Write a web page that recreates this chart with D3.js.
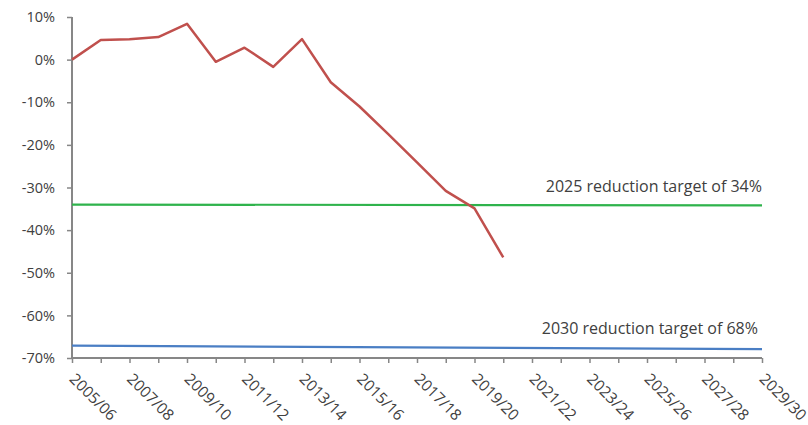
<!DOCTYPE html>
<html>
<head>
<meta charset="utf-8">
<script src="https://cdn.jsdelivr.net/npm/d3@7"></script>
<style>
  body { margin: 0; background: #fff; overflow: hidden; }
  text { font-family: "Open Sans", "DejaVu Sans", sans-serif; fill: #404040; }
</style>
</head>
<body>
<div id="chart"></div>
<script>
// financial years on the x axis, one per tick
var years = ["2005/06","2006/07","2007/08","2008/09","2009/10","2010/11","2011/12","2012/13",
             "2013/14","2014/15","2015/16","2016/17","2017/18","2018/19","2019/20","2020/21",
             "2021/22","2022/23","2023/24","2024/25","2025/26","2026/27","2027/28","2028/29","2029/30"];

// change against 2005/06 (%)
var actual = [0, 4.6, 4.8, 5.3, 8.4, -0.5, 2.8, -1.7, 4.8, -5.3, -11, -17.5, -24.1, -30.8, -34.9, -46.4];

// target lines, value at first and last year
var target2025 = [-34.0, -34.2];
var target2030 = [-67.1, -67.9];

var yTicks = [10, 0, -10, -20, -30, -40, -50, -60, -70];

var width = 808, height = 425;
var mLeft = 72, mRight = 762, mTop = 17, mBottom = 358;

var svg = d3.select("#chart").append("svg")
  .attr("width", width)
  .attr("height", height);

var x = d3.scalePoint().domain(years).range([mLeft, mRight]);
var y = d3.scaleLinear().domain([-70, 10]).range([mBottom, mTop]);

// y axis
var yAxis = svg.append("g")
  .attr("transform", "translate(" + mLeft + ",0)")
  .call(d3.axisLeft(y).tickValues(yTicks).tickSize(5).tickFormat(function(d) { return d + "%"; }));
yAxis.selectAll("line").attr("stroke", "#878787").attr("stroke-width", 1.5);
yAxis.select(".domain").attr("stroke", "#878787").attr("stroke-width", 2).attr("d", "M0," + mTop + "V" + mBottom);
yAxis.selectAll("text")
  .attr("x", -17)
  .style("font-size", "14.5px")
  .style("fill", "#404040");

// x axis
var xAxis = svg.append("g")
  .attr("transform", "translate(0," + mBottom + ")")
  .call(d3.axisBottom(x).tickSize(5).tickSizeOuter(0).tickFormat(function(d, i) { return i % 2 == 0 ? d : ""; }));
xAxis.selectAll("line").attr("stroke", "#878787").attr("stroke-width", 1.5);
xAxis.select(".domain").attr("stroke", "#878787").attr("stroke-width", 2).attr("d", "M" + mLeft + ",0H" + mRight);
xAxis.selectAll("text")
  .attr("text-anchor", "start")
  .attr("transform", "translate(-4,22) rotate(45)")
  .attr("y", 0)
  .attr("dy", 0)
  .style("font-size", "15.5px")
  .style("fill", "#404040");

// target lines
var ends = [years[0], years[years.length - 1]];
var targetLine = d3.line()
  .x(function(d, i) { return x(ends[i]); })
  .y(function(d) { return y(d); });

svg.append("path")
  .datum(target2025)
  .attr("d", targetLine)
  .attr("fill", "none")
  .attr("stroke", "#2fb34c")
  .attr("stroke-width", 2.2);

svg.append("path")
  .datum(target2030)
  .attr("d", targetLine)
  .attr("fill", "none")
  .attr("stroke", "#4a7ec4")
  .attr("stroke-width", 2.2);

// actual emissions line
var line = d3.line()
  .x(function(d, i) { return x(years[i]); })
  .y(function(d) { return y(d); });

svg.append("path")
  .datum(actual)
  .attr("d", line)
  .attr("fill", "none")
  .attr("stroke", "#c0504d")
  .attr("stroke-width", 2.5)
  .attr("stroke-linejoin", "round");

// labels for targets
svg.append("text")
  .attr("x", mRight)
  .attr("y", y(target2025[1]) - 13)
  .attr("text-anchor", "end")
  .style("font-size", "16px")
  .text("2025 reduction target of 34%");

svg.append("text")
  .attr("x", mRight - 4)
  .attr("y", y(target2030[1]) - 15)
  .attr("text-anchor", "end")
  .style("font-size", "16px")
  .text("2030 reduction target of 68%");
</script>
</body>
</html>
